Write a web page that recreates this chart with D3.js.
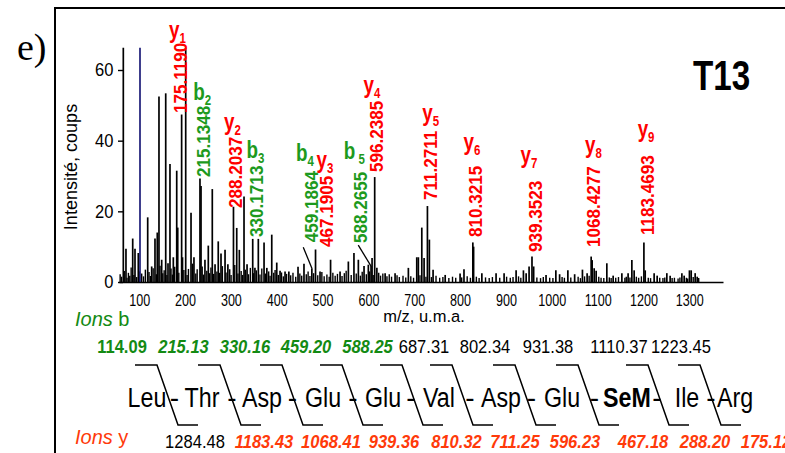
<!DOCTYPE html>
<html><head><meta charset="utf-8">
<script src="https://cdn.jsdelivr.net/npm/d3@7"></script>
<style>body{margin:0;background:#fff}svg{display:block}</style>
</head><body>
<svg id="c" width="785" height="453"></svg>
<script>
// ---------------- DATA ----------------
const xTicks = [100,200,300,400,500,600,700,800,900,1000,1100,1200,1300];
const yTicks = [0,20,40,60];

// main peaks [m/z, intensity]
const majorPeaks = [
[47.9,66.3],[53.7,9.4],[68.4,12.3],[73.4,9.4],[80.6,8.2],[101.1,18.3],[109.8,4.4],[117.0,12.3],[122.0,14.0],[125.7,52.5],
[131.6,6.3],[140.4,53.4],[145.4,5.3],[149.7,33.4],[157.0,7.0],[164.4,31.5],[166.6,15.4],[175.119,47.4],[177.0,7.0],[184.0,66.3],
[195.6,19.6],[202.0,7.0],[215.1348,29.3],[217.4,27.2],[226.0,6.3],[233.3,10.3],[242.0,26.3],[248.0,5.0],[255.0,11.5],[261.0,8.1],
[269.8,9.1],[276.0,5.0],[288.2037,21.3],[295.3,15.3],[301.0,9.1],[311.2,24.2],[317.8,5.0],[330.1713,12.2],[335.0,4.0],[342.4,12.2],
[354.9,11.2],[361.0,4.0],[371.7,13.4],[382.6,5.5],[389.8,3.2],[400.7,3.0],[409.0,3.0],[429.0,4.3],[442.0,5.2],[459.1864,3.9],
[467.1905,9.2],[477.0,3.0],[500.0,6.3],[520.7,3.0],[538.8,5.8],[551.0,8.2],[560.6,6.3],[573.0,4.5],[582.4,4.9],[588.2655,4.5],
[590.5,6.8],[596.2385,29.7],[601.0,4.0],[619.0,2.5],[640.7,2.5],[669.7,4.0],[688.0,7.0],[691.5,7.0],[699.0,15.4],[704.0,6.8],
[711.2711,21.5],[715.5,12.0],[723.6,3.5],[750.0,2.0],[782.5,2.4],[791.0,3.6],[810.3215,11.2],[812.0,10.0],[830.0,2.5],[861.0,2.5],
[878.5,2.5],[904.7,3.3],[920.7,3.3],[926.6,2.5],[933.0,4.4],[939.3523,7.2],[943.0,4.4],[970.0,2.0],[991.4,3.3],[999.6,2.2],
[1017.6,3.3],[1032.4,2.2],[1049.4,3.5],[1059.6,2.5],[1068.4277,7.2],[1070.6,6.2],[1075.0,3.9],[1079.3,3.2],[1102.6,5.3],[1116.4,1.8],
[1135.4,2.5],[1149.0,2.5],[1157.2,6.2],[1162.2,3.3],[1183.4693,11.2],[1186.3,3.3],[1205.8,2.5],[1212.4,1.8],[1233.5,2.5],[1240.7,1.8],
[1266.3,2.5],[1271.3,1.8],[1282.8,3.3],[1286.6,3.3],[1295.3,2.5],[1299.7,1.5]
];
// the single dark-blue peak
const bluePeaks = [[84.3,66.3]];
// small baseline peaks [m/z, intensity]
const noisePeaks = [
[41,2.2],[44,1.5],[50,3.1],[56,1.2],[59,2.6],[62,1.8],[65,4.1],[71,2.0],[77,1.4],[83,3.0],[88,2.4],[92,1.6],[96,3.5],[104,2.8],
[107,1.7],[113,3.9],[120,2.2],[128,4.6],[134,2.5],[137,3.3],[143,2.0],[152,3.8],[155,2.1],[160,4.3],[169,2.6],[180,3.4],[187,2.0],
[190,3.7],[199,5.2],[206,2.4],[209,3.6],[220,4.4],[223,2.1],[230,3.2],[236,2.5],[239,4.1],[245,2.3],[252,3.0],[258,2.6],[264,4.5],
[272,2.7],[280,3.6],[283,2.0],[291,4.8],[298,2.4],[305,3.1],[308,2.0],[314,3.5],[321,2.2],[325,4.0],[332,2.5],[338,3.3],[346,2.1],
[350,3.8],[358,2.4],[365,3.0],[368,1.8],[376,2.6],[379,3.4],[386,2.0],[393,2.7],[397,1.6],[404,2.3],[413,1.9],[418,2.6],[424,1.5],
[433,2.4],[437,1.8],[447,2.2],[451,3.0],[455,1.7],[463,2.5],[472,1.9],[481,2.8],[486,1.6],[492,2.1],[497,1.5],[505,2.6],[510,1.8],
[515,2.3],[525,1.7],[530,2.5],[534,3.2],[545,2.0],[556,2.4],[565,1.8],[569,2.9],[578,2.2],[585,3.0],[593,2.0],[605,2.6],[609,1.8],
[614,2.4],[623,1.6],[628,2.2],[633,1.5],[645,1.9],[650,1.4],[658,1.8],[664,1.3],[675,1.6],[681,1.2],[695,1.9],[708,1.5],[720,1.4],
[730,1.8],[738,1.2],[745,1.4],[758,1.1],[766,1.5],[773,1.2],[786,1.3],[798,1.6],[805,1.2],[818,1.5],[824,1.1],[838,1.3],[846,1.1],
[853,1.4],[869,1.2],[884,1.5],[892,1.2],[898,1.4],[910,1.6],[915,1.2],[950,1.3],[958,1.1],[964,1.4],[978,1.2],[985,1.1],[1005,1.4],
[1010,1.2],[1024,1.3],[1040,1.5],[1045,1.1],[1054,1.6],[1064,1.8],[1085,1.5],[1090,1.2],[1096,1.1],[1108,1.3],[1112,1.1],[1122,1.2],
[1128,1.4],[1142,1.2],[1145,1.5],[1153,1.3],[1167,1.5],[1172,1.2],[1178,1.6],[1193,1.2],[1198,1.1],[1218,1.2],[1225,1.1],[1229,1.3],
[1245,1.1],[1250,1.2],[1258,1.0],[1262,1.3],[1276,1.2],[1279,1.0],[1291,1.4],[1303,1.1]
];

// annotated fragment ions
const ionTypes = ['y','b','y','b','b','y','b','y','y','y','y','y','y'];
const ionNumbers = ['1','2','2','3','4','3','5','4','5','6','7','8','9'];
const ionMz = [175.1190,215.1348,288.2037,330.1713,459.1864,467.1905,588.2655,596.2385,711.2711,810.3215,939.3523,1068.4277,1183.4693];

// sequence and theoretical ions
const residues = ['Leu','Thr','Asp','Glu','Glu','Val','Asp','Glu','SeM','Ile','Arg'];
const bIons = ['114.09','215.13','330.16','459.20','588.25','687.31','802.34','931.38','1110.37','1223.45'];
const bSeen = [1,1,1,1,1,0,0,0,0,0];
const yIons = ['1284.48','1183.43','1068.41','939.36','810.32','711.25','596.23','467.18','288.20','175.12'];
const ySeen = [0,1,1,1,1,1,1,1,1,1];

// ---------------- LAYOUT ----------------
const W = 785, H = 453;
const FONT = "'Liberation Sans',Arial,sans-serif";
const RED = '#ff0000', GREEN = '#1d9a1d', DKGREEN = '#138a13', ORANGE = '#ff3a0a';
// per-label placement: [dx from peak, dy from peak top, gap above number, label dx]
const annLayout = [[5.6,-1.5,4.5,-3],[10,-1.5,6,-1],[8.7,1.3,7,-3],[10.5,-2,8,-1],[6.4,-26,10,-6.5],[17.7,-2.5,8,-1.5],
  [-3.8,-23,13,-6],[8.6,-5,7.5,-4.5],[10,-6,10,0],[9.5,-5.4,16,-3.5],[10.4,-4.6,18,-6.5],[9.2,-9.6,13,0],[10.5,-7.4,18,-1.5]];
const leaderLayout = {4:[-8.6,-21], 6:[-12.8,-21]};
const residueX = [147,202,262,323,383,439,501,562,627,687,735];
const bracketX = [157,220,282,342,402,452,515,578,648,700];
const bLabelX = [122,183.5,245,306,367.5,424,485,548,619,681];
const yLabelX = [195,264,331,394,456.5,515,575,643,705,766];

const svg = d3.select('#c');
const x = d3.scaleLinear().domain([38.5,1356]).range([119,723]);
const y = d3.scaleLinear().domain([0,60]).range([282,70]);

function text(g, s, px, py, o={}) {
  const t = g.append('text')
    .attr('transform', `translate(${px},${py}) rotate(${o.rot||0}) scale(${o.k||1},1)`)
    .attr('font-family', o.family||FONT).attr('font-size', o.size||16)
    .attr('font-weight', o.weight||'normal').attr('font-style', o.style||'normal')
    .attr('fill', o.fill||'#000').attr('text-anchor', o.anchor||'start').text(s);
  return t;
}

// frame
svg.append('path').attr('d', `M55,${H}V8H${W}`).attr('fill','none').attr('stroke','#000').attr('stroke-width',2);

// peaks
const gp = svg.append('g');
function drawPeaks(data, color, w) {
  gp.append('g').selectAll('line').data(data).join('line')
    .attr('x1', d=>x(d[0])).attr('x2', d=>x(d[0]))
    .attr('y1', y(0)).attr('y2', d=>y(d[1]))
    .attr('stroke', color).attr('stroke-width', w);
}
drawPeaks(noisePeaks, '#000', 1.4);
drawPeaks(majorPeaks, '#000', 1.7);
drawPeaks(bluePeaks, '#1c1c78', 1.7);

// axes
const gx = svg.append('g').attr('transform', `translate(0,${y(0)})`)
  .call(d3.axisBottom(x).tickValues(xTicks).tickFormat(d3.format('d')).tickSize(0).tickPadding(12));
gx.select('.domain').attr('stroke','#000').attr('stroke-width',1.6);
gx.selectAll('text').attr('font-family',FONT).attr('font-size',17).attr('fill','#000')
  .attr('transform','translate(-8,0) scale(0.74,1)');

const gy = svg.append('g').attr('transform','translate(118,0)')
  .call(d3.axisLeft(y).tickValues(yTicks).tickSizeInner(-5).tickSizeOuter(0).tickPadding(5));
gy.select('.domain').remove();
gy.selectAll('line').attr('stroke','#000').attr('stroke-width',1.4);
gy.selectAll('text').attr('font-family',FONT).attr('font-size',18).attr('fill','#000')
  .attr('transform','scale(0.92,1)');

// titles
text(svg, 'Intensité, coups', 77, 167, {rot:-90, size:19, anchor:'middle', k:0.95});
text(svg, 'm/z, u.m.a.', 424, 322, {size:17, anchor:'middle', k:0.97});
text(svg, 'e)', 17, 60, {size:38, family:"'Liberation Serif','Times New Roman',serif"});
text(svg, 'T13', 693, 90, {size:42, weight:'bold', k:0.79});

// peak annotations
const ga = svg.append('g');
ionMz.forEach((mz, i) => {
  const pk = majorPeaks.find(d => d[0] === mz);
  const L = annLayout[i];
  const xp = x(mz), yp = y(pk[1]);
  const col = ionTypes[i] === 'y' ? RED : GREEN;
  const ax = xp + L[0], ay = yp + L[1];
  const k = 0.9, size = 19;
  const t = text(ga, mz.toFixed(4), ax, ay, {rot:-90, size, fill:col, k, weight:'bold'});
  const len = t.node().getComputedTextLength() * k;
  const cx = ax - size*0.36 + L[3];
  const by = ay - len - L[2];
  const lab = ga.append('text').attr('transform', `translate(${cx},${by}) scale(0.82,1)`)
    .attr('font-family', FONT).attr('font-size', 23).attr('font-weight','bold').attr('fill', col).attr('text-anchor','middle');
  lab.append('tspan').text(ionTypes[i]);
  lab.append('tspan').attr('font-size', 14).attr('dy', 5).attr('dx', i === 6 ? 4 : 0).text(ionNumbers[i]);
  if (leaderLayout[i]) {
    const d = leaderLayout[i];
    ga.append('line').attr('x1', xp + d[0]).attr('y1', yp + d[1]).attr('x2', xp).attr('y2', yp)
      .attr('stroke','#000').attr('stroke-width',1.3);
  }
});

// sequence diagram
const gs = svg.append('g');
const ib = text(gs, '', 75, 326, {size:20, fill:DKGREEN});
ib.append('tspan').attr('font-style','italic').text('Ions ');
ib.append('tspan').text('b');
const iy = text(gs, '', 75, 444, {size:20, fill:ORANGE});
iy.append('tspan').attr('font-style','italic').text('Ions  ');
iy.append('tspan').text('y');

bIons.forEach((s, i) => {
  text(gs, s, bLabelX[i], 353, {size:18, anchor:'middle', k:0.92,
    fill: bSeen[i] ? DKGREEN : '#000', weight: bSeen[i] ? 'bold' : 'normal',
    style: (bSeen[i] && i > 0) ? 'italic' : 'normal'});
});
yIons.forEach((s, i) => {
  text(gs, s, yLabelX[i], 448, {size:18, anchor:'middle', k:0.92,
    fill: ySeen[i] ? ORANGE : '#000', weight: ySeen[i] ? 'bold' : 'normal',
    style: ySeen[i] ? 'italic' : 'normal'});
});
residues.forEach((r, i) => {
  text(gs, r, residueX[i], 407, {size:28, anchor:'middle', k:0.83, weight: r === 'SeM' ? 'bold' : 'normal'});
  if (i < residues.length - 1) {
    text(gs, '-', (residueX[i] + residueX[i+1]) / 2, 407, {size:28, anchor:'middle', k:1});
  }
});
gs.selectAll('path.br').data(bracketX).join('path').attr('class','br')
  .attr('d', b => `M${b-22},365H${b}L${b+21},425H${b+41}`)
  .attr('fill','none').attr('stroke','#000').attr('stroke-width',1.5);
</script>
</body></html>
